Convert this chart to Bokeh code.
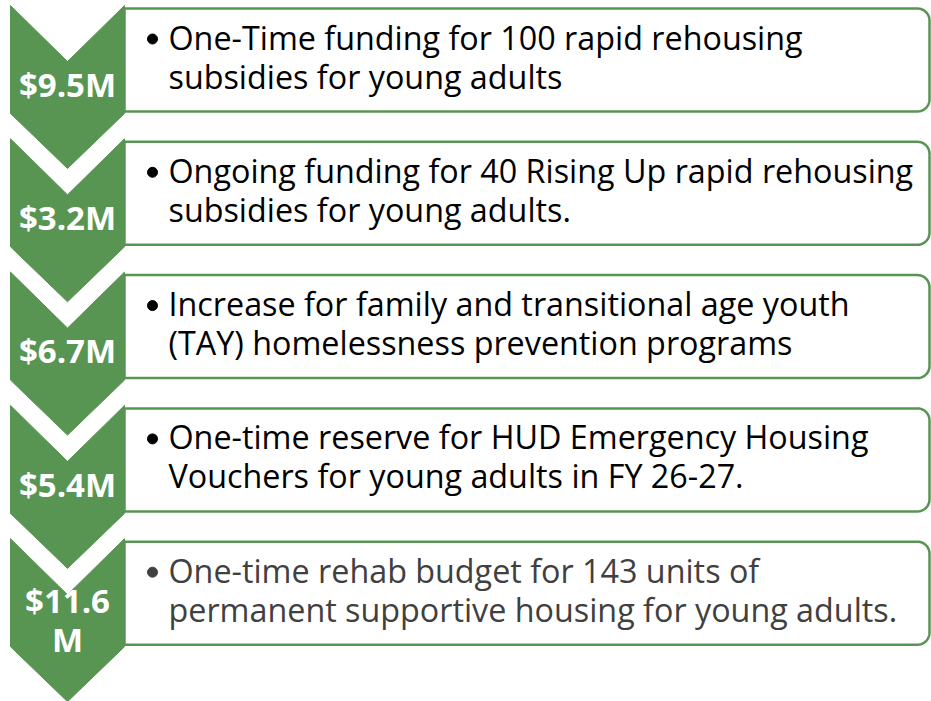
import numpy as np
from bokeh.plotting import figure
from bokeh.models import Range1d
from bokeh.core.properties import value
from bokeh.embed import file_html
from bokeh.resources import INLINE

# ---- data ----
amount_lines = [["$9.5M"], ["$3.2M"], ["$6.7M"], ["$5.4M"], ["$11.6", "M"]]
desc_line1 = [
    "One-Time funding for 100 rapid rehousing",
    "Ongoing funding for 40 Rising Up rapid rehousing",
    "Increase for family and transitional age youth",
    "One-time reserve for HUD Emergency Housing",
    "One-time rehab budget  for 143 units of",
]
desc_line2 = [
    "subsidies for young adults",
    "subsidies for young adults.",
    "(TAY) homelessness prevention programs",
    "Vouchers for young adults in FY 26-27.",
    "permanent supportive housing for young adults.",
]
text_colors = ["#000000", "#000000", "#000000", "#000000", "#404040"]

# ---- layout / style ----
GREEN = "#599552"
PERIOD = 133.3
CH_L, CH_R, CH_TOP0 = 10, 124, 5
NOTCH, STRAIGHT, TIP = 56, 108, 163
BOX_OFF, BOX_H, BOX_R, RAD = 3, 103, 929, 12
TEXT_X, BULLET_X = 168, 152
FONT = "Open Sans"
BODY_PX, AMT_PX = 32.3, 33
SHIFT = 0.4  # baseline correction (em)

n = len(amount_lines)
W, H = 931, 701

p = figure(width=W, height=H, x_range=Range1d(0, W), y_range=Range1d(H, 0),
           output_backend="svg", toolbar_location=None, min_border=0,
           x_axis_type=None, y_axis_type=None)
p.grid.visible = False
p.outline_line_color = None
p.background_fill_color = "white"
p.border_fill_color = "white"

# boxes
bxs, bys = [], []
for i in range(n):
    bt = CH_TOP0 + BOX_OFF + PERIOD * i
    bb = bt + BOX_H
    cx = BOX_R - RAD
    a = np.linspace(0, np.pi / 2, 12)
    xs = [CH_R, cx] + list(cx + RAD * np.sin(a)) + list(BOX_R - RAD + RAD * np.cos(a)) + [CH_R]
    ys = [bt, bt] + list(bt + RAD - RAD * np.cos(a)) + list(bb - RAD + RAD * np.sin(a)) + [bb]
    bxs.append(xs)
    bys.append(ys)
p.patches(bxs, bys, fill_color="white", line_color=GREEN, line_width=2.5)

# chevrons
cxs, cys = [], []
mid = (CH_L + CH_R) / 2
for i in range(n):
    t = CH_TOP0 + PERIOD * i
    cxs.append([CH_L, mid, CH_R, CH_R, mid, CH_L])
    cys.append([t, t + NOTCH, t, t + STRAIGHT, t + TIP, t + STRAIGHT])
p.patches(cxs, cys, fill_color=GREEN, line_color=GREEN, line_width=1)

# amount labels
ax, ay, at = [], [], []
for i, lines in enumerate(amount_lines):
    t = CH_TOP0 + PERIOD * i
    k = len(lines)
    for j, s in enumerate(lines):
        ax.append(mid)
        ay.append(t + 92 - 17 * (k - 1) + 39 * j - SHIFT * AMT_PX)
        at.append(s)
p.text(x=ax, y=ay, text=at, text_color="white", text_font=value(FONT),
       text_font_style="bold", text_font_size=f"{AMT_PX}px", text_align="center",
       text_baseline="alphabetic")

# descriptions
tx, ty, tt, tc = [], [], [], []
bx, by, bc = [], [], []
for i in range(n):
    bt = CH_TOP0 + BOX_OFF + PERIOD * i
    for j, s in enumerate([desc_line1[i], desc_line2[i]]):
        tx.append(TEXT_X)
        ty.append(bt + 41 + 39 * j - SHIFT * BODY_PX)
        tt.append(s)
        tc.append(text_colors[i])
    bx.append(BULLET_X)
    by.append(bt + 41 - 10.5)
    bc.append(text_colors[i])
p.text(x=tx, y=ty, text=tt, text_color=tc, text_font=value(FONT),
       text_font_size=f"{BODY_PX}px", text_align="left", text_baseline="alphabetic")
p.scatter(x=bx, y=by, marker="circle", size=10, fill_color=bc, line_color=bc)

open("out.html", "w").write(file_html(p, INLINE))
